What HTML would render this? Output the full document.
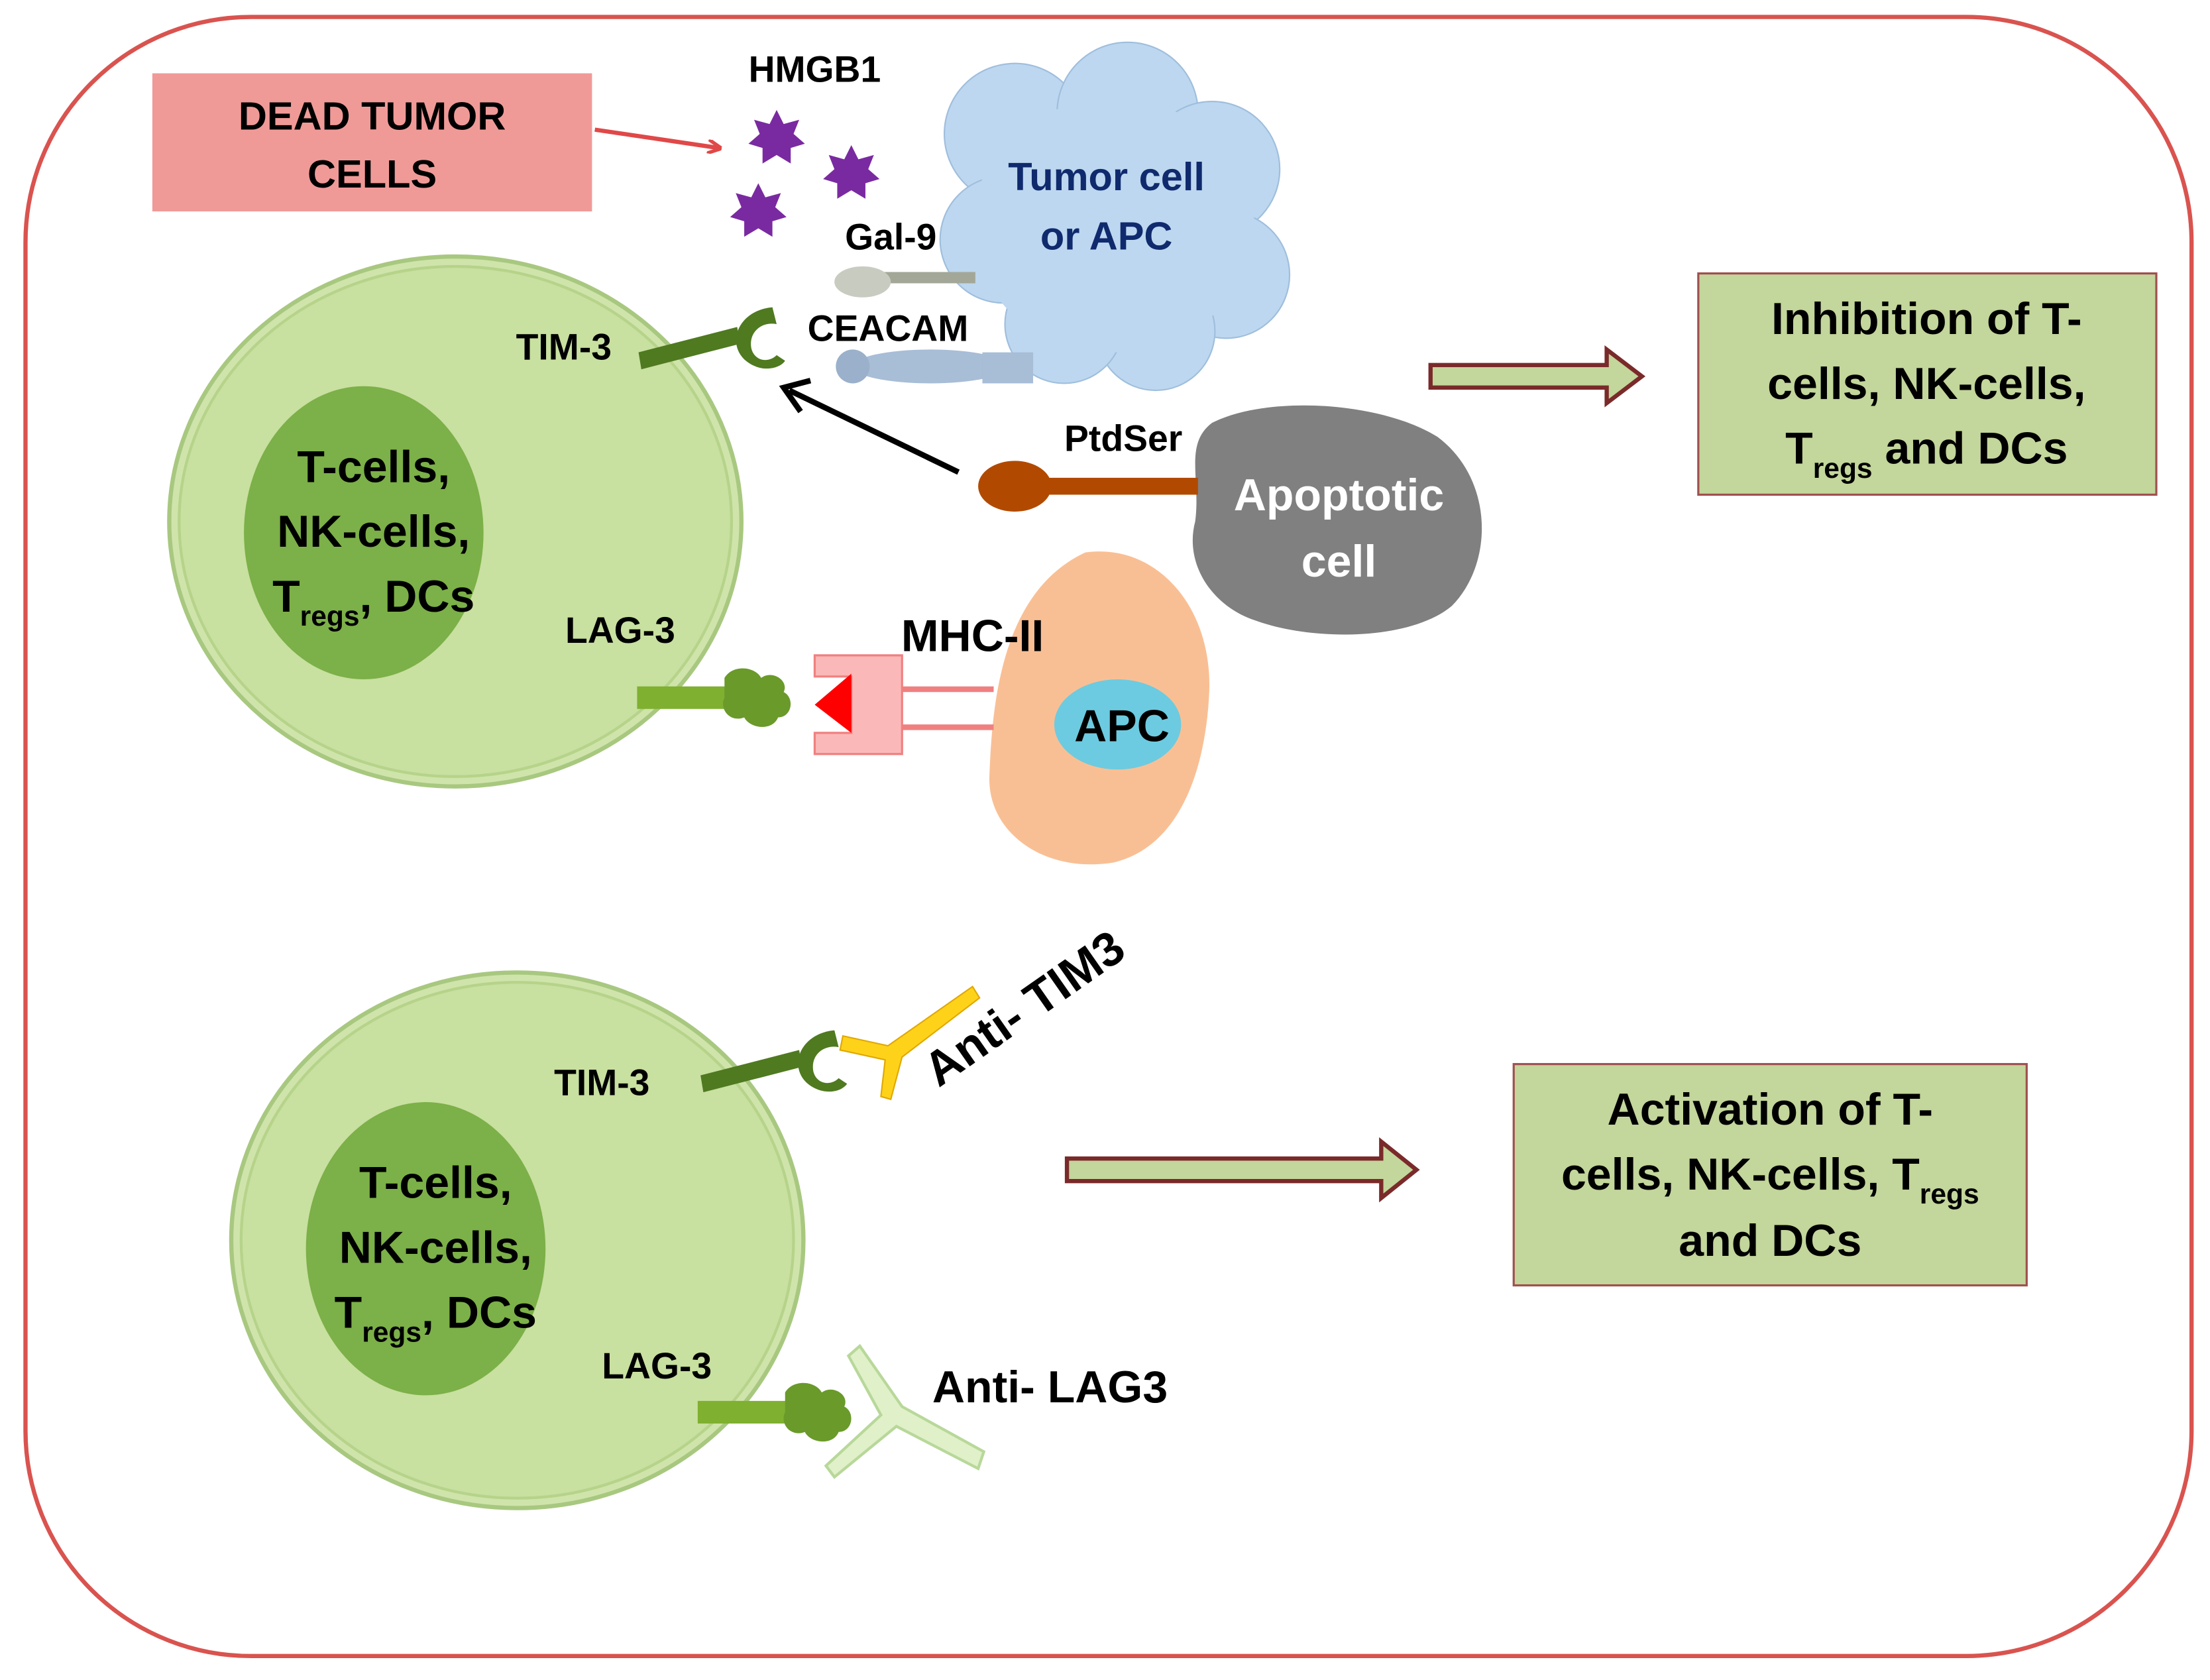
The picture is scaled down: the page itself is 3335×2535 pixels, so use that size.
<!DOCTYPE html>
<html><head><meta charset="utf-8"><style>
html,body{margin:0;padding:0;background:#fff}
svg{display:block}
text{font-family:"Liberation Sans",sans-serif;font-weight:bold}
</style></head><body>
<svg width="3335" height="2535" viewBox="0 0 1568 1192" xmlns="http://www.w3.org/2000/svg">
<defs>
<marker id="ah" markerWidth="10" markerHeight="10" refX="8" refY="5" orient="auto" markerUnits="userSpaceOnUse"><path d="M0,0 L10,5 L0,10" fill="none" stroke="#e04848" stroke-width="2.5"/></marker>
<g id="star"><polygon points="0,-20 5,-10 16,-13 12,-3 20,4 10,7 10,18 0,12 -10,18 -10,7 -20,4 -12,-3 -16,-13 -5,-10" fill="#7a2aa0"/></g>
<g id="cup"><path d="M0,0 L70,-18 L72,-6 L2,12 Z" fill="#4f7a20"/><path d="M95,-32 C72,-30 62,-8 75,5 C86,15 100,12 104,6 L98,2 C92,8 82,6 80,-3 C78,-15 88,-22 98,-20 Z" fill="#4f7a20"/><path d="M68,-10 L78,-14 L80,0 Z" fill="#4f7a20"/></g>
<g id="knot"><path d="M0,-8 L65,-8 L65,8 L0,8 Z" fill="#7fb030"/><path d="M62,-14 C68,-24 84,-22 88,-14 C96,-20 108,-12 104,-4 C112,0 110,14 100,14 C96,24 80,22 76,14 C66,18 58,8 62,0 Z" fill="#6a9a2a"/></g>
</defs>
<rect x="18" y="12" width="1537" height="1163" rx="160" fill="#fff" stroke="#d9534f" stroke-width="3"/>
<rect x="108" y="52" width="312" height="98" fill="#f09a98"/>
<text x="264" y="92" font-size="28" text-anchor="middle">DEAD TUMOR</text>
<text x="264" y="133" font-size="28" text-anchor="middle">CELLS</text>
<line x1="422" y1="92" x2="510" y2="105" stroke="#e04848" stroke-width="3" marker-end="url(#ah)"/>
<text x="578" y="58" font-size="26" text-anchor="middle">HMGB1</text>
<use href="#star" x="551" y="98"/><use href="#star" x="604" y="123"/><use href="#star" x="538" y="150"/>
<g fill="#bcd7ef" stroke="#9fbedd" stroke-width="1">
<circle cx="720" cy="95" r="50"/><circle cx="800" cy="80" r="50"/><circle cx="860" cy="120" r="48"/><circle cx="870" cy="195" r="45"/><circle cx="820" cy="235" r="42"/><circle cx="755" cy="230" r="42"/><circle cx="712" cy="170" r="45"/>
</g>
<ellipse cx="790" cy="160" rx="100" ry="90" fill="#bcd7ef"/>
<text x="785" y="135" font-size="28" fill="#102a6e" text-anchor="middle">Tumor cell</text>
<text x="785" y="177" font-size="28" fill="#102a6e" text-anchor="middle">or APC</text>
<text x="632" y="177" font-size="26" text-anchor="middle">Gal-9</text>
<rect x="620" y="193" width="72" height="8" fill="#a3a798"/>
<ellipse cx="612" cy="200" rx="20" ry="11" fill="#c8cbbf"/>
<text x="630" y="242" font-size="26" text-anchor="middle">CEACAM</text>
<ellipse cx="660" cy="260" rx="55" ry="12" fill="#a8bdd6"/>
<circle cx="605" cy="260" r="12" fill="#9ab0cb"/>
<rect x="697" y="250" width="36" height="22" fill="#a8bdd6"/>
<ellipse cx="323" cy="370" rx="203" ry="188" fill="#cfe4aa" stroke="#a8c880" stroke-width="3"/>
<ellipse cx="323" cy="370" rx="196" ry="181" fill="#c8e0a0" stroke="#b6d38a" stroke-width="2"/>
<ellipse cx="258" cy="378" rx="85" ry="104" fill="#7cb048"/>
<text x="265" y="342" font-size="32" text-anchor="middle">T-cells,</text>
<text x="265" y="388" font-size="32" text-anchor="middle">NK-cells,</text>
<text x="265" y="434" font-size="32" text-anchor="middle">T<tspan font-size="20" dy="10">regs</tspan><tspan dy="-10">, DCs</tspan></text>
<text x="400" y="255" font-size="26" text-anchor="middle">TIM-3</text>
<use href="#cup" x="453" y="250"/>
<line x1="680" y1="335" x2="560" y2="277" stroke="#000" stroke-width="4"/>
<path d="M575,270 L556,275 L568,292" fill="none" stroke="#000" stroke-width="4"/>
<path d="M860,300 C900,280 980,285 1020,310 C1060,340 1060,400 1030,430 C1000,455 930,455 890,440 C860,430 840,400 848,370 C852,340 840,315 860,300 Z" fill="#808080"/>
<text x="950" y="362" font-size="32" fill="#fff" text-anchor="middle">Apoptotic</text>
<text x="950" y="409" font-size="32" fill="#fff" text-anchor="middle">cell</text>
<text x="797" y="320" font-size="26" text-anchor="middle">PtdSer</text>
<rect x="740" y="339" width="110" height="12" fill="#b14a00"/>
<ellipse cx="720" cy="345" rx="26" ry="18" fill="#b14a00"/>
<path d="M770,392 C820,385 860,430 858,490 C856,540 840,600 790,612 C740,620 700,590 702,550 C704,500 710,420 770,392 Z" fill="#f9bf94"/>
<ellipse cx="793" cy="514" rx="45" ry="32" fill="#6ccbe0"/>
<text x="796" y="526" font-size="32" text-anchor="middle">APC</text>
<text x="690" y="462" font-size="32" text-anchor="middle">MHC-II</text>
<line x1="640" y1="489" x2="705" y2="489" stroke="#f08080" stroke-width="4"/>
<line x1="640" y1="516" x2="705" y2="516" stroke="#f08080" stroke-width="4"/>
<path d="M578,465 L640,465 L640,535 L578,535 L578,520 L604,520 L604,480 L578,480 Z" fill="#fbb8b8" stroke="#f08080" stroke-width="1.5"/>
<polygon points="604,478 604,520 578,500" fill="#f00"/>
<text x="440" y="456" font-size="26" text-anchor="middle">LAG-3</text>
<use href="#knot" x="452" y="495"/>
<path d="M1015,259 L1140,259 L1140,248 L1165,267 L1140,286 L1140,275 L1015,275 Z" fill="#c3d69b" stroke="#7a2a2a" stroke-width="3"/>
<rect x="1205" y="194" width="325" height="157" fill="#c3d69b" stroke="#a05050" stroke-width="1.5"/>
<text x="1367" y="237" font-size="32" text-anchor="middle">Inhibition of  T-</text>
<text x="1367" y="283" font-size="32" text-anchor="middle">cells, NK-cells,</text>
<text x="1367" y="329" font-size="32" text-anchor="middle">T<tspan font-size="20" dy="10">regs</tspan><tspan dy="-10"> and DCs</tspan></text>
<ellipse cx="367" cy="880" rx="203" ry="190" fill="#cfe4aa" stroke="#a8c880" stroke-width="3"/>
<ellipse cx="367" cy="880" rx="196" ry="183" fill="#c8e0a0" stroke="#b6d38a" stroke-width="2"/>
<ellipse cx="302" cy="886" rx="85" ry="104" fill="#7cb048"/>
<text x="309" y="850" font-size="32" text-anchor="middle">T-cells,</text>
<text x="309" y="896" font-size="32" text-anchor="middle">NK-cells,</text>
<text x="309" y="942" font-size="32" text-anchor="middle">T<tspan font-size="20" dy="10">regs</tspan><tspan dy="-10">, DCs</tspan></text>
<text x="427" y="777" font-size="26" text-anchor="middle">TIM-3</text>
<use href="#cup" x="497" y="763"/>
<path d="M598,735 L630,742 L690,700 L695,708 L640,750 L632,780 L625,778 L628,752 L596,745 Z" fill="#ffd21a" stroke="#e0a800" stroke-width="1"/>
<text x="0" y="0" font-size="34" transform="translate(666,772) rotate(-35)">Anti- TIM3</text>
<text x="466" y="978" font-size="26" text-anchor="middle">LAG-3</text>
<use href="#knot" x="495" y="1002"/>
<path d="M610,955 L640,998 L698,1030 L694,1042 L636,1012 L592,1048 L586,1040 L625,1004 L602,962 Z" fill="#e0f0c8" stroke="#b8d89a" stroke-width="2"/>
<text x="745" y="995" font-size="32" text-anchor="middle">Anti- LAG3</text>
<path d="M757,822 L980,822 L980,810 L1005,830 L980,850 L980,838 L757,838 Z" fill="#c3d69b" stroke="#7a2a2a" stroke-width="3"/>
<rect x="1074" y="755" width="364" height="157" fill="#c3d69b" stroke="#a05050" stroke-width="1.5"/>
<text x="1256" y="798" font-size="32" text-anchor="middle">Activation of  T-</text>
<text x="1256" y="844" font-size="32" text-anchor="middle">cells, NK-cells, T<tspan font-size="20" dy="10">regs</tspan></text>
<text x="1256" y="891" font-size="32" text-anchor="middle">and DCs</text>
</svg>
</body></html>
